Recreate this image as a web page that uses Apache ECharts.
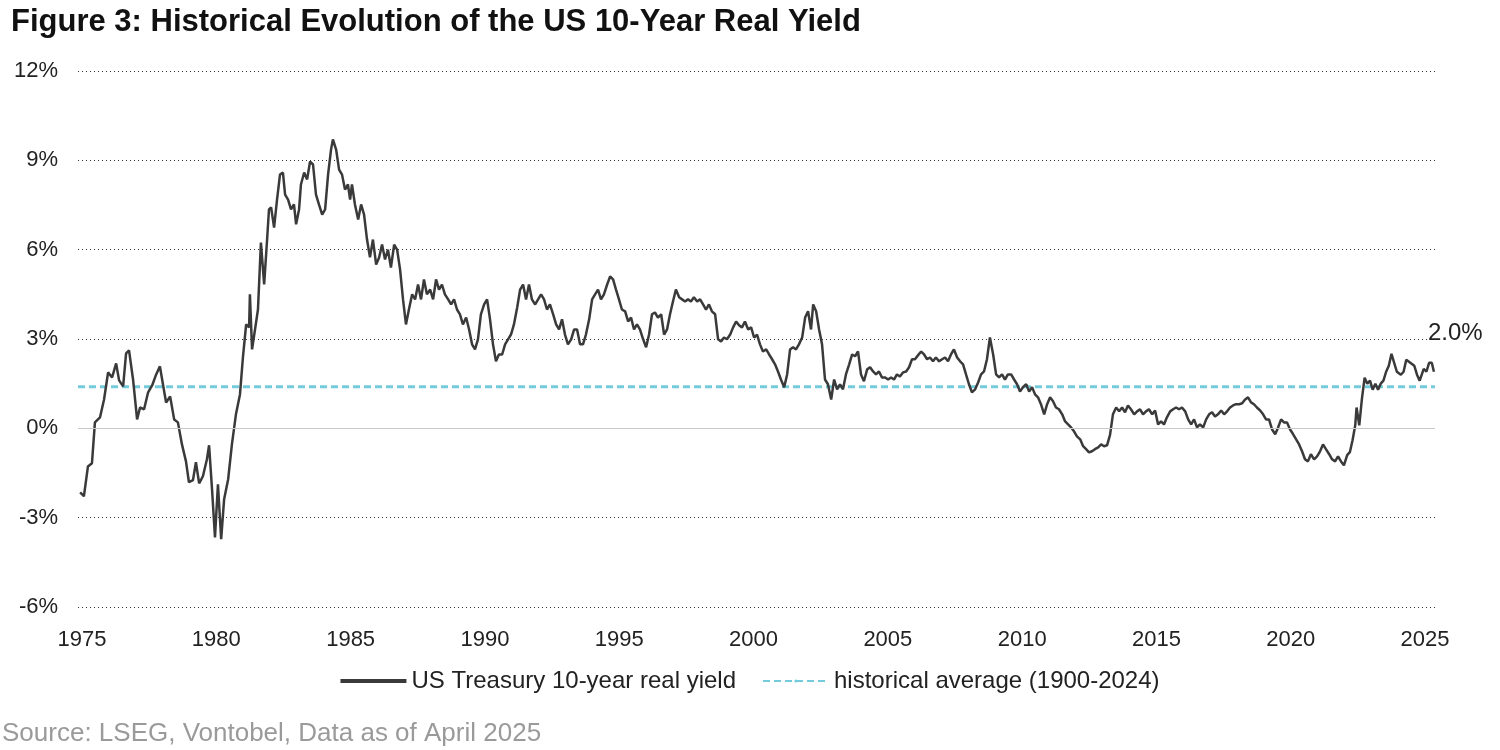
<!DOCTYPE html>
<html><head><meta charset="utf-8">
<script src="https://cdn.jsdelivr.net/npm/echarts@6/dist/echarts.min.js"></script>
<style>html,body{margin:0;padding:0;background:#fff}#c{width:1500px;height:750px}</style>
</head><body><div id="c"></div>
<script>
const years = [1974.93,1975.07,1975.22,1975.37,1975.48,1975.67,1975.82,1975.97,1976.12,1976.27,1976.38,1976.53,1976.64,1976.75,1976.9,1977.05,1977.16,1977.31,1977.46,1977.61,1977.76,1977.9,1978.02,1978.13,1978.28,1978.43,1978.57,1978.72,1978.87,1978.98,1979.13,1979.24,1979.36,1979.5,1979.65,1979.73,1979.84,1979.95,1980.06,1980.18,1980.29,1980.44,1980.58,1980.73,1980.88,1980.99,1981.11,1981.22,1981.25,1981.33,1981.44,1981.55,1981.66,1981.78,1981.89,1981.96,1982.04,1982.15,1982.26,1982.37,1982.48,1982.56,1982.67,1982.78,1982.89,1982.97,1983.08,1983.15,1983.27,1983.38,1983.49,1983.6,1983.71,1983.82,1983.94,1984.05,1984.16,1984.27,1984.34,1984.46,1984.57,1984.68,1984.79,1984.9,1984.98,1985.05,1985.16,1985.28,1985.39,1985.5,1985.61,1985.72,1985.83,1985.95,1986.06,1986.17,1986.28,1986.39,1986.5,1986.62,1986.73,1986.84,1986.95,1987.06,1987.17,1987.29,1987.4,1987.51,1987.62,1987.73,1987.84,1987.96,1988.07,1988.18,1988.29,1988.4,1988.51,1988.63,1988.74,1988.85,1988.96,1989.07,1989.18,1989.3,1989.41,1989.52,1989.63,1989.74,1989.85,1989.97,1990.08,1990.19,1990.3,1990.41,1990.52,1990.64,1990.75,1990.86,1990.97,1991.08,1991.2,1991.31,1991.42,1991.53,1991.64,1991.75,1991.87,1991.98,1992.09,1992.2,1992.31,1992.42,1992.54,1992.65,1992.76,1992.87,1992.98,1993.09,1993.21,1993.32,1993.43,1993.54,1993.65,1993.76,1993.88,1993.99,1994.1,1994.21,1994.32,1994.43,1994.55,1994.66,1994.77,1994.88,1994.99,1995.1,1995.22,1995.33,1995.44,1995.55,1995.66,1995.77,1995.89,1996.0,1996.11,1996.22,1996.33,1996.44,1996.56,1996.67,1996.78,1996.89,1997.0,1997.11,1997.23,1997.34,1997.45,1997.56,1997.67,1997.78,1997.9,1998.01,1998.12,1998.23,1998.34,1998.45,1998.57,1998.68,1998.79,1998.9,1999.01,1999.13,1999.24,1999.35,1999.46,1999.57,1999.68,1999.8,1999.91,2000.02,2000.13,2000.24,2000.35,2000.47,2000.58,2000.69,2000.8,2000.91,2001.02,2001.14,2001.25,2001.36,2001.47,2001.58,2001.69,2001.81,2001.92,2002.03,2002.14,2002.22,2002.33,2002.44,2002.55,2002.66,2002.77,2002.89,2003.0,2003.11,2003.22,2003.33,2003.44,2003.56,2003.67,2003.78,2003.89,2004.0,2004.11,2004.23,2004.34,2004.45,2004.56,2004.67,2004.78,2004.9,2005.01,2005.12,2005.23,2005.34,2005.45,2005.57,2005.68,2005.79,2005.9,2006.01,2006.12,2006.24,2006.35,2006.46,2006.57,2006.68,2006.79,2006.91,2007.02,2007.13,2007.24,2007.35,2007.46,2007.58,2007.69,2007.8,2007.91,2008.02,2008.13,2008.25,2008.36,2008.47,2008.58,2008.69,2008.8,2008.92,2009.03,2009.14,2009.25,2009.36,2009.47,2009.59,2009.7,2009.81,2009.92,2010.03,2010.15,2010.26,2010.37,2010.48,2010.59,2010.7,2010.82,2010.93,2011.04,2011.15,2011.26,2011.37,2011.49,2011.6,2011.71,2011.82,2011.93,2012.04,2012.16,2012.27,2012.38,2012.49,2012.6,2012.71,2012.83,2012.94,2013.05,2013.16,2013.27,2013.38,2013.5,2013.61,2013.72,2013.83,2013.94,2014.05,2014.17,2014.28,2014.39,2014.5,2014.61,2014.72,2014.84,2014.95,2015.06,2015.17,2015.28,2015.39,2015.51,2015.62,2015.73,2015.84,2015.95,2016.07,2016.18,2016.29,2016.4,2016.51,2016.62,2016.74,2016.85,2016.96,2017.07,2017.18,2017.29,2017.41,2017.52,2017.63,2017.74,2017.85,2017.96,2018.08,2018.19,2018.3,2018.41,2018.52,2018.63,2018.74,2018.86,2018.97,2019.08,2019.19,2019.3,2019.42,2019.53,2019.64,2019.75,2019.86,2019.97,2020.09,2020.2,2020.31,2020.42,2020.53,2020.64,2020.75,2020.87,2020.98,2021.09,2021.2,2021.31,2021.43,2021.54,2021.65,2021.76,2021.87,2021.98,2022.1,2022.2,2022.3,2022.4,2022.45,2022.55,2022.65,2022.75,2022.85,2022.95,2023.05,2023.15,2023.25,2023.35,2023.45,2023.55,2023.65,2023.75,2023.85,2023.95,2024.1,2024.2,2024.3,2024.45,2024.6,2024.7,2024.8,2024.95,2025.05,2025.15,2025.25,2025.33];
const realYield = [-2.15,-2.28,-1.28,-1.17,0.2,0.37,0.97,1.88,1.71,2.18,1.61,1.41,2.52,2.62,1.64,0.3,0.7,0.64,1.21,1.44,1.81,2.08,1.44,0.87,1.07,0.3,0.2,-0.54,-1.11,-1.81,-1.74,-1.14,-1.85,-1.61,-1.04,-0.57,-2.05,-3.66,-1.88,-3.72,-2.38,-1.71,-0.54,0.47,1.14,2.38,3.49,3.39,4.5,2.65,3.32,3.99,6.24,4.83,6.34,7.35,7.42,6.74,7.68,8.52,8.59,7.85,7.68,7.35,7.52,6.85,7.35,8.19,8.59,8.36,8.96,8.86,7.85,7.52,7.18,7.35,8.52,9.36,9.7,9.36,8.69,8.52,8.02,8.19,7.68,8.19,7.52,7.01,7.52,7.18,6.34,5.74,6.34,5.5,5.74,6.17,5.67,6.0,5.4,6.17,6.0,5.34,4.33,3.49,3.99,4.5,4.33,4.83,4.33,5.0,4.5,4.66,4.33,5.0,4.66,4.83,4.5,4.33,4.16,4.33,3.99,3.83,3.49,3.72,3.32,2.82,2.65,2.99,3.83,4.16,4.33,3.66,2.82,2.25,2.48,2.48,2.82,2.99,3.15,3.49,4.06,4.66,4.83,4.33,4.83,4.33,4.16,4.33,4.5,4.33,3.99,4.16,3.83,3.49,3.32,3.66,3.15,2.82,2.99,3.32,3.32,2.82,2.82,3.15,3.66,4.33,4.5,4.66,4.33,4.5,4.83,5.1,5.0,4.66,4.33,3.99,3.93,3.59,3.72,3.32,3.49,3.32,2.99,2.72,3.15,3.83,3.89,3.72,3.83,3.15,3.32,3.83,4.26,4.66,4.4,4.33,4.26,4.33,4.26,4.4,4.26,4.33,4.16,3.99,4.16,3.93,3.83,2.99,2.92,3.05,2.99,3.15,3.39,3.59,3.46,3.39,3.59,3.32,3.39,3.05,3.15,2.82,2.58,2.65,2.48,2.32,2.15,1.91,1.64,1.38,1.81,2.65,2.72,2.65,2.82,3.05,3.72,3.93,3.32,4.16,3.93,3.32,2.82,1.64,1.48,0.97,1.64,1.31,1.48,1.31,1.81,2.15,2.48,2.42,2.58,1.81,1.58,1.98,2.05,1.91,1.81,1.91,1.71,1.71,1.64,1.71,1.64,1.81,1.74,1.88,1.91,2.05,2.32,2.32,2.45,2.58,2.48,2.32,2.38,2.25,2.38,2.25,2.32,2.38,2.25,2.48,2.65,2.38,2.25,2.15,1.81,1.48,1.21,1.31,1.54,1.81,1.91,2.32,3.05,2.48,1.81,1.71,1.81,1.64,1.81,1.81,1.64,1.48,1.24,1.38,1.48,1.24,1.38,1.14,1.04,0.81,0.47,0.81,1.04,0.91,0.7,0.64,0.47,0.23,0.13,0.03,-0.1,-0.27,-0.37,-0.6,-0.7,-0.81,-0.77,-0.7,-0.64,-0.54,-0.6,-0.57,-0.23,0.47,0.7,0.57,0.7,0.54,0.77,0.64,0.47,0.57,0.64,0.47,0.57,0.64,0.47,0.6,0.13,0.23,0.13,0.37,0.57,0.64,0.7,0.64,0.7,0.57,0.3,0.13,0.3,0.03,0.13,0.03,0.3,0.47,0.54,0.4,0.47,0.6,0.47,0.57,0.7,0.77,0.81,0.81,0.84,0.97,1.04,0.87,0.81,0.7,0.6,0.47,0.3,0.3,-0.03,-0.2,0.03,0.3,0.2,0.2,-0.03,-0.2,-0.37,-0.54,-0.77,-1.04,-1.11,-0.87,-1.04,-0.94,-0.77,-0.54,-0.7,-0.87,-1.04,-1.11,-0.94,-1.11,-1.24,-0.9,-0.8,-0.4,0.1,0.7,0.1,1.0,1.7,1.5,1.6,1.3,1.5,1.3,1.5,1.6,1.9,2.1,2.5,2.2,1.9,1.8,1.9,2.3,2.2,2.1,1.8,1.6,2.0,1.9,2.2,2.2,1.9,2.0];
const historicalAverage = 1.4;
const avgLabel = '1.5%';
const lastLabel = '2.0%';
const xTicks = [1975,1980,1985,1990,1995,2000,2005,2010,2015,2020,2025];

const chart = echarts.init(document.getElementById('c'));
const F = 'Arial, "Liberation Sans", sans-serif';
chart.setOption({
  animation:false,
  title:{text:'Figure 3: Historical Evolution of the US 10-Year Real Yield',left:6,top:2,
    textStyle:{fontFamily:F,fontWeight:'bold',fontSize:31,color:'#111'}},
  graphic:[{type:'text',left:2,top:721,style:{text:'Source: LSEG, Vontobel, Data as of April 2025',fontFamily:F,fontSize:26,fill:'#9a9a9a'}}],
  legend:{bottom:52,left:'center',itemWidth:66,itemHeight:4,itemGap:26,
    textStyle:{fontFamily:F,fontSize:24,color:'#222'},
    data:[{name:'US Treasury 10-year real yield',icon:'rect'},{name:'historical average (1900-2024)'}]},
  grid:{left:78,right:65,top:71,bottom:143},
  xAxis:{type:'value',min:1974.85,max:2025.37,
    axisLine:{show:false},axisTick:{show:false},splitLine:{show:false},
    axisLabel:{customValues:xTicks,formatter:v=>String(Math.round(v)),fontFamily:F,fontSize:22,color:'#222',margin:22}},
  yAxis:{type:'value',min:-6,max:12,interval:3,
    axisLine:{show:false},axisTick:{show:false},
    splitLine:{lineStyle:{type:[1,3],color:'#333',width:1}},
    axisLabel:{formatter:'{value}%',fontFamily:F,fontSize:22,color:'#222',margin:20}},
  series:[
    {name:'historical average (1900-2024)',type:'line',symbol:'none',z:3,
     lineStyle:{color:'#74cbdc',width:3,type:[7,4]},itemStyle:{color:'#74cbdc'},
     data:[[1974.85,historicalAverage],{value:[1995.4,historicalAverage],label:{show:true,position:'bottom',distance:6,formatter:avgLabel,fontFamily:F,fontSize:24,color:'#74cbdc'}},[2025.37,historicalAverage]]},
    {name:'US Treasury 10-year real yield',type:'line',symbol:'none',z:4,
     lineStyle:{color:'#3a3a3a',width:2.5},itemStyle:{color:'#3a3a3a'},
     endLabel:{show:true,formatter:lastLabel,offset:[-14,-38],fontFamily:F,fontSize:24,color:'#222'},
     markLine:{silent:true,symbol:'none',label:{show:false},lineStyle:{color:'#c8c8c8',type:'solid',width:1.2},data:[{yAxis:0}]},
     data:years.map((y,i)=>[y,realYield[i]])}
  ]
});
</script></body></html>
